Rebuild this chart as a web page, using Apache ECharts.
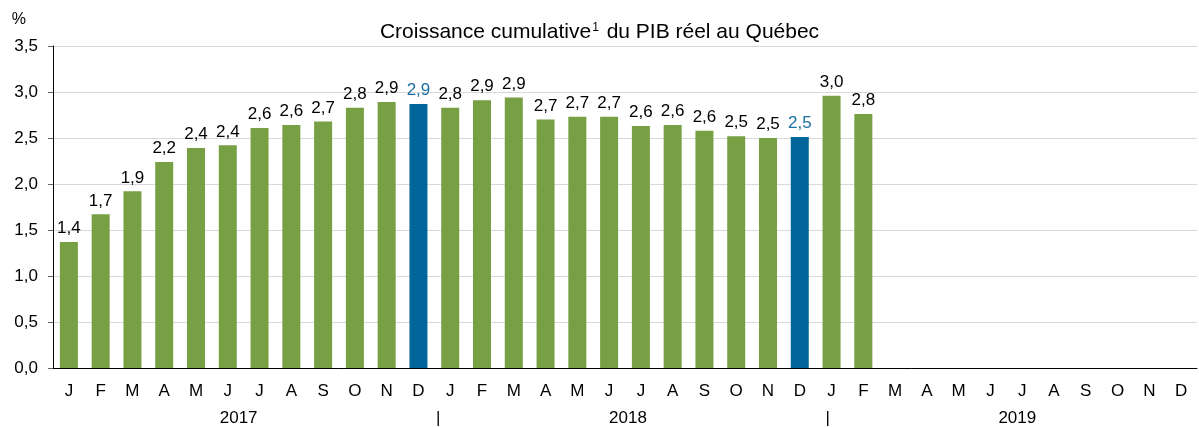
<!DOCTYPE html>
<html><head><meta charset="utf-8">
<script src="https://cdn.jsdelivr.net/npm/echarts@6/dist/echarts.min.js"></script>
<style>html,body{margin:0;padding:0;background:#fff}#c{width:1199px;height:427px}</style>
</head><body><div id="c"></div>
<script>
var months = ['J','F','M','A','M','J','J','A','S','O','N','D','J','F','M','A','M','J','J','A','S','O','N','D','J','F','M','A','M','J','J','A','S','O','N','D'];
var years = ['2017','2018','2019'];
var values = [1.37,1.67,1.92,2.24,2.39,2.42,2.61,2.64,2.68,2.83,2.89,2.87,2.83,2.91,2.94,2.70,2.73,2.73,2.63,2.64,2.58,2.52,2.50,2.51,2.96,2.76];
var yTicks = [0,0.5,1,1.5,2,2.5,3,3.5];
var titleMain = 'Croissance cumulative';
var titleNote = '1';
var titleRest = ' du PIB réel au Québec';

var GREEN = '#76A043', BLUE = '#00669A', FONT = 'Liberation Sans, Arial, sans-serif';
var fmt = function(v){ return (Math.round(v*10)/10).toFixed(1).replace('.', ','); };
var seriesData = values.map(function(v, i){
  var dec = months[i] === 'D';
  return { value: v, itemStyle: { color: dec ? BLUE : GREEN },
           label: { color: dec ? '#1a6fa3' : '#000' } };
});
var nYear = years.length * 12;
var chart = echarts.init(document.getElementById('c'), null, {renderer:'canvas'});
chart.setOption({
  animation: false,
  textStyle: { fontFamily: FONT },
  title: { text: '{t|' + titleMain + '}{s|' + titleNote + '}{t|' + titleRest + '}', left: 'center', top: 17,
    textStyle: { fontFamily: FONT, fontSize: 21, fontWeight: 'normal', color: '#000',
      rich: { t: { fontFamily: FONT, fontSize: 21, color: '#000' },
              s: { fontFamily: FONT, fontSize: 12, color: '#000', padding: [0, 2, 9, 1] } } } },
  grid: [{ left: 53, right: 2, top: 46, bottom: 59 },
         { left: 44, right: 0, top: 46, bottom: 59 }],
  xAxis: [{
    type: 'category', data: months, boundaryGap: true, gridIndex: 0,
    axisLine: { lineStyle: { color: '#000', width: 1 } },
    axisTick: { show: false },
    axisLabel: { interval: 0, margin: 15, fontSize: 17, color: '#000', fontFamily: FONT }
  }, {
    type: 'value', min: 0, max: 35.6, interval: 6, position: 'bottom', offset: 28, gridIndex: 1,
    axisLine: { show: false }, axisTick: { show: false }, splitLine: { show: false },
    axisLabel: { fontSize: 17, color: '#000', fontFamily: FONT, margin: 15, showMaxLabel: false,
      rich: { sep: { fontSize: 17, color: '#000', fontFamily: FONT, padding: [0, 0, 0, 10] } },
      formatter: function(v){
        var k = Math.round(v);
        if (Math.abs(v - k) > 1e-6) return '';
        if (k % 12 === 6) return years[(k - 6) / 12];
        if (k > 0 && k < nYear && k % 12 === 0) return '{sep||}';
        return '';
      } }
  }],
  yAxis: [{
    type: 'value', min: yTicks[0], max: yTicks[yTicks.length-1], interval: 0.5, gridIndex: 0,
    name: '%', nameLocation: 'end', nameGap: 18,
    nameTextStyle: { fontSize: 16, color: '#000', fontFamily: FONT, align: 'right', padding: [0, 27, 0, 0] },
    axisLine: { show: true, lineStyle: { color: '#000' } },
    axisTick: { show: true, length: 5, lineStyle: { color: '#666' } },
    axisLabel: { fontSize: 17, color: '#000', fontFamily: FONT, margin: 15, formatter: fmt },
    splitLine: { lineStyle: { color: '#d9d9d9', width: 1 } }
  }, {
    type: 'value', gridIndex: 1, show: false, min: 0, max: 1
  }],
  series: [{
    type: 'bar', xAxisIndex: 0, yAxisIndex: 0, data: seriesData, barWidth: 18,
    label: { show: true, position: 'top', distance: 5, fontSize: 17, fontFamily: FONT,
      formatter: function(p){ return fmt(p.value); } }
  }]
});
</script></body></html>
